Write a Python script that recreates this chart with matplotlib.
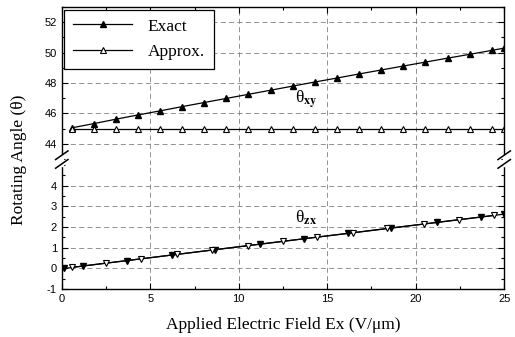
"""Rotating angle vs applied field, broken y axis (theta_xy above, theta_zx below)."""
import numpy as np
import matplotlib.pyplot as plt
from matplotlib.ticker import MultipleLocator

plt.rcParams['mathtext.fontset'] = 'stix'
plt.rcParams['axes.unicode_minus'] = False

# theta_xy (upper panel)
xy_x = [0.55, 1.8, 3.05, 4.3, 5.55, 6.8, 8.05, 9.3, 10.55, 11.8, 13.05,
        14.3, 15.55, 16.8, 18.05, 19.3, 20.55, 21.8, 23.05, 24.3, 25.0]
xy_exact = [45.05, 45.33, 45.62, 45.90, 46.17, 46.45, 46.72, 46.99, 47.26, 47.53, 47.80,
            48.07, 48.33, 48.60, 48.86, 49.12, 49.38, 49.64, 49.89, 50.15, 50.30]
xy_approx = [45.0] * len(xy_x)

# theta_zx (lower panel)
zx_exact_x = [0.15, 1.2, 3.7, 6.2, 8.65, 11.2, 13.7, 16.2, 18.6, 21.2, 23.7, 25.0]
zx_exact = [0.0, 0.12, 0.38, 0.65, 0.91, 1.18, 1.44, 1.70, 1.95, 2.23, 2.49, 2.63]
zx_approx_x = [0.55, 2.5, 4.5, 6.5, 8.5, 10.5, 12.5, 14.45, 16.45, 18.4, 20.45, 22.45, 24.45]
zx_approx = [0.05, 0.26, 0.47, 0.68, 0.89, 1.10, 1.31, 1.52, 1.73, 1.94, 2.15, 2.36, 2.57]

serif = 'Liberation Serif'
sans = 'Liberation Sans'
grid_kw = dict(color='0.5', lw=0.6, ls=(0, (6, 4)))

fig = plt.figure(figsize=(5.15, 3.37), dpi=100)
ax_top = fig.add_axes([0.120, 0.510, 0.859, 0.469])
ax_bot = fig.add_axes([0.120, 0.142, 0.859, 0.368])

ax_top.plot(xy_x, xy_exact, color='black', lw=0.9, marker='^', ms=5,
            mfc='black', mec='black', label='Exact')
ax_top.plot(xy_x, xy_approx, color='black', lw=0.9, marker='^', ms=5,
            mfc='white', mec='black', mew=0.8, label='Approx.')
ax_bot.plot(zx_exact_x, zx_exact, color='black', lw=0.9, marker='v', ms=5,
            mfc='black', mec='black')
ax_bot.plot(zx_approx_x, zx_approx, color='black', lw=0.9, marker='v', ms=5,
            mfc='white', mec='black', mew=0.8)

ax_top.set_ylim(42.6, 53.0)
ax_bot.set_ylim(-1, 5)
ax_top.yaxis.set_major_locator(MultipleLocator(2))
ax_top.yaxis.set_minor_locator(MultipleLocator(1))
ax_bot.yaxis.set_major_locator(MultipleLocator(1))
ax_bot.yaxis.set_minor_locator(MultipleLocator(0.5))

for ax in (ax_top, ax_bot):
    ax.set_xlim(0, 25)
    ax.xaxis.set_major_locator(MultipleLocator(5))
    ax.xaxis.set_minor_locator(MultipleLocator(2.5))
    ax.tick_params(which='both', direction='in', top=True, right=True,
                   labelsize=8, width=0.8)
    ax.tick_params(which='major', length=4)
    ax.tick_params(which='minor', length=2)
    ax.grid(True, which='major', **grid_kw)
    for sp in ax.spines.values():
        sp.set_linewidth(1.0)

ax_top.spines['bottom'].set_visible(False)
ax_bot.spines['top'].set_visible(False)
ax_top.tick_params(which='both', bottom=False, labelbottom=False)
ax_bot.tick_params(which='both', top=False)
ax_top.set_yticks([44, 46, 48, 50, 52])
ax_bot.set_yticks([-1, 0, 1, 2, 3, 4])
for ax in (ax_top, ax_bot):
    for lab in ax.get_xticklabels() + ax.get_yticklabels():
        lab.set_fontfamily(sans)

# axis break marks on left and right spines
for xf in (0.0, 1.0):
    ax_bot.plot([xf, xf], [1.0, 1.07], transform=ax_bot.transAxes,
                color='white', lw=2.5, clip_on=False, zorder=5)
    for dy in (0.0, 0.07):
        ax_bot.plot([xf - 0.014, xf + 0.014], [0.975 + dy, 1.045 + dy],
                    transform=ax_bot.transAxes, color='black', lw=1.1,
                    clip_on=False, zorder=6)

ax_top.text(13.2, 46.9, r'θ$_{\mathbf{xy}}$', family=serif, fontsize=12.5, va='center')
ax_bot.text(13.2, 2.45, r'θ$_{\mathbf{zx}}$', family=serif, fontsize=12.5, va='center')

leg = ax_top.legend(loc='upper left', prop={'family': serif, 'size': 12.5},
                    handlelength=3.4, frameon=True, fancybox=False,
                    borderaxespad=0.15, labelspacing=0.55, borderpad=0.5,
                    handletextpad=0.9)
leg.get_frame().set_edgecolor('black')
leg.get_frame().set_linewidth(0.9)
leg.get_frame().set_alpha(1.0)

fig.text(0.036, 0.525, 'Rotating Angle (θ)', rotation=90, ha='center', va='center',
         family=serif, fontsize=12.5)
fig.text(0.55, 0.035, 'Applied Electric Field Ex (V/μm)', ha='center', va='center',
         family=serif, fontsize=12.5)

fig.savefig('out.png', dpi=100)
